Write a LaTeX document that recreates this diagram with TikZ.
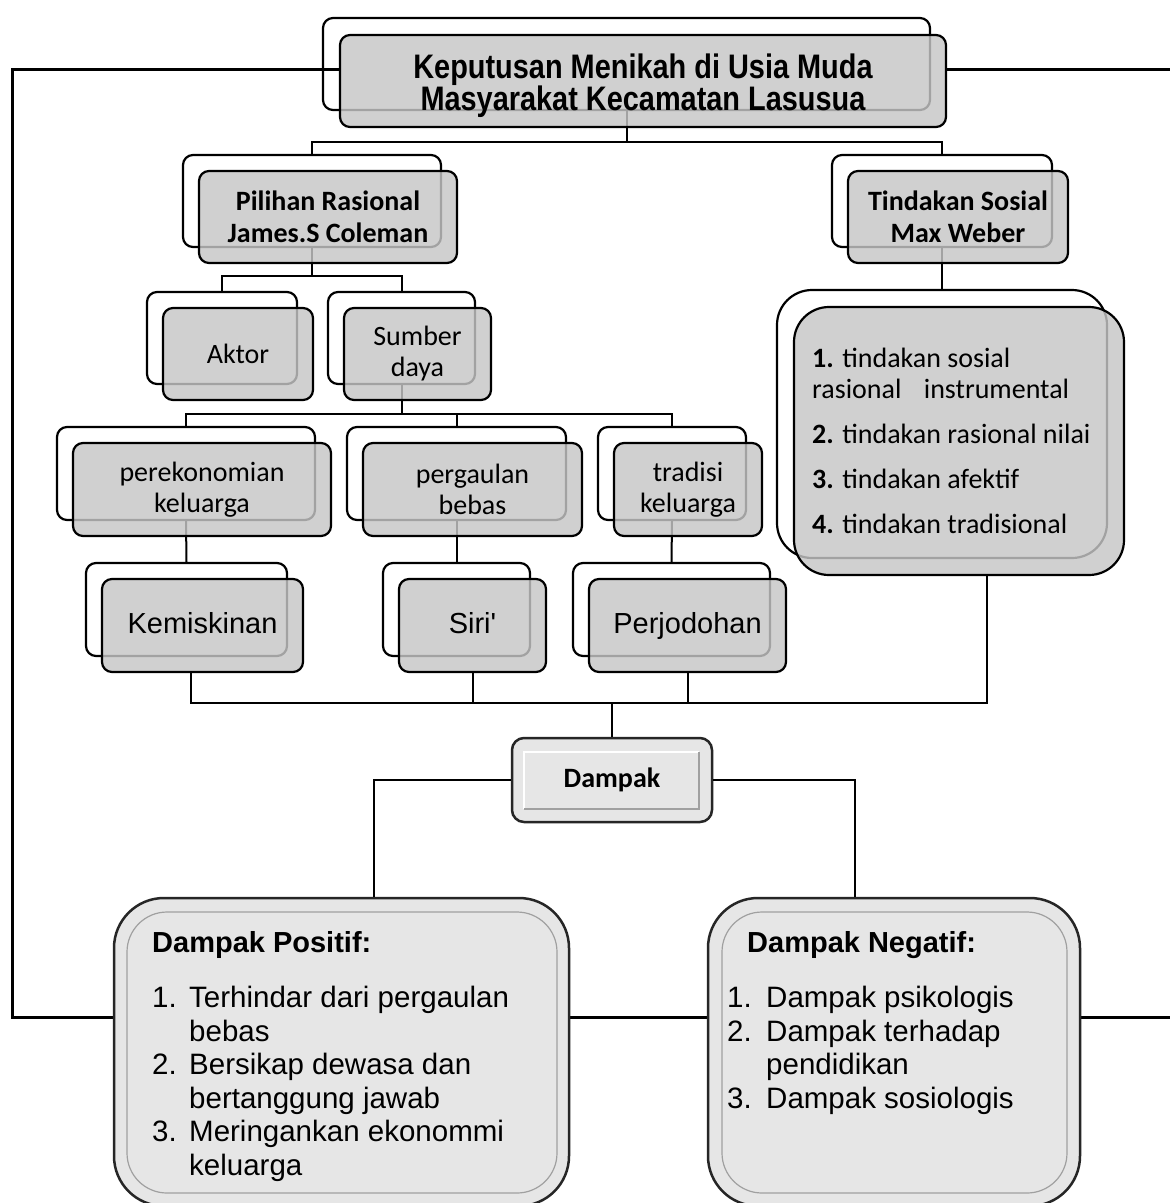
\documentclass[tikz,border=0pt]{standalone}
\usepackage{fontspec}
\usepackage{graphicx}
\setmainfont{Liberation Sans}
\newfontfamily\calibri{Carlito}
\usetikzlibrary{calc}
\definecolor{boxgray}{RGB}{198,198,198}
\definecolor{lightbox}{RGB}{230,230,230}
\definecolor{rimgray}{RGB}{160,160,160}
\begin{document}
\begin{tikzpicture}[x=1pt,y=-1pt,
  backbox/.style={draw=black, line width=2.2pt, rounded corners=10pt, fill=white, inner sep=0pt},
  frontbox/.style={draw=black, line width=2.2pt, rounded corners=10pt, fill=boxgray, fill opacity=0.82, text opacity=1, inner sep=0pt, align=center},
  calf/.style={font=\calibri\fontsize{28}{31}\selectfont},
  calbf/.style={font=\calibri\bfseries\fontsize{28}{32}\selectfont},
  arf/.style={font=\fontsize{29}{31}\selectfont, text height=20pt, text depth=5pt},
  conn/.style={draw=black, line width=2pt},
  frameline/.style={draw=black, line width=3pt},
  bigbox/.style={draw=black!85, line width=2.5pt, rounded corners=50pt, fill=lightbox, inner sep=0pt},
  rim/.style={draw=rimgray, line width=1.2pt, rounded corners=40pt},
]
\useasboundingbox (0,0) rectangle (1170,1203);
\clip (0,0) rectangle (1170,1203);
\fill[white] (0,0) rectangle (1170,1203);

% ---------- back boxes ----------
\node[backbox, minimum width=607pt, minimum height=92pt] (mainB) at (626.5,64) {};
\node[backbox, minimum width=258pt, minimum height=92pt] (pilB) at (312,201) {};
\node[backbox, minimum width=220pt, minimum height=92pt] (tinB) at (942,201) {};
\node[backbox, minimum width=150pt, minimum height=92pt] (aktB) at (222,338) {};
\node[backbox, minimum width=147pt, minimum height=92pt] (sumB) at (401.5,338) {};
\node[backbox, minimum width=258pt, minimum height=93pt] (perB) at (186,473.5) {};
\node[backbox, minimum width=219pt, minimum height=93pt] (pgB) at (456.5,473.5) {};
\node[backbox, minimum width=148pt, minimum height=93pt] (traB) at (672,473.5) {};
\node[backbox, minimum width=201pt, minimum height=93pt] (kemB) at (186.5,609.5) {};
\node[backbox, minimum width=147pt, minimum height=93pt] (siriB) at (456.5,609.5) {};
\node[backbox, minimum width=197pt, minimum height=93pt] (jodB) at (671.5,609.5) {};
\node[backbox, rounded corners=35pt, minimum width=330pt, minimum height=268pt] (listB) at (942,424) {};

% ---------- frame lines ----------
\draw[frameline] (340,69) -- (12,69) -- (12,1017) -- (114,1017);
\draw[frameline] (946,69) -- (1170,69);
\draw[frameline] (569,1017) -- (708,1017);
\draw[frameline] (1080,1017) -- (1170,1017);

% ---------- connectors ----------
\coordinate (jtop) at (626.5,142);
\coordinate (jpil) at (312,276);
\coordinate (jsum) at (401.5,414);
\coordinate (jbot) at (612,703);
\draw[conn] (mainB.south) -- (jtop);
\draw[conn] (pilB.north) |- (jtop) -| (tinB.north);
\draw[conn] (pilB.south) -- (jpil);
\draw[conn] (aktB.north) |- (jpil) -| (sumB.north);
\draw[conn] (sumB.south) -- (jsum);
\draw[conn] (perB.north) |- (jsum) -| (traB.north);
\draw[conn] (pgB.north) -- (pgB.north |- jsum);
\draw[conn] (perB.south) -- (kemB.north);
\draw[conn] (pgB.south) -- (siriB.north);
\draw[conn] (traB.south) -- (jodB.north);
\draw[conn] (tinB.south) -- (listB.north);

% ---------- front boxes ----------
\node[frontbox, minimum width=606pt, minimum height=92pt, font=\bfseries\fontsize{34}{30}\selectfont] (mainF) at (643,81)
  {\rule{0pt}{34pt}\scalebox{0.85}[1]{Keputusan Menikah di Usia Muda}\\\scalebox{0.85}[1]{Masyarakat Kecamatan Lasusua}};
\node[frontbox, calbf, minimum width=258pt, minimum height=92pt] (pilF) at (328,217) {Pilihan Rasional\\James.S Coleman};
\node[frontbox, calbf, minimum width=220pt, minimum height=92pt] (tinF) at (958,217) {Tindakan Sosial\\Max Weber};
\node[frontbox, calf, minimum width=150pt, minimum height=92pt] (aktF) at (238,354) {Aktor};
\node[frontbox, calf, minimum width=147pt, minimum height=92pt] (sumF) at (417.5,354) {Sumber\\daya};
\node[frontbox, calf, minimum width=258pt, minimum height=93pt] (perF) at (202,489.5) {perekonomian\\keluarga};
\node[frontbox, calf, minimum width=219pt, minimum height=93pt] (pgF) at (472.5,489.5) {pergaulan\\bebas};
\node[frontbox, calf, minimum width=148pt, minimum height=93pt] (traF) at (688,489.5) {tradisi\\keluarga};
\node[frontbox, arf, minimum width=201pt, minimum height=93pt] (kemF) at (202.5,625.5) {Kemiskinan};
\node[frontbox, arf, minimum width=147pt, minimum height=93pt] (siriF) at (472.5,625.5) {Siri\textquotesingle};
\node[frontbox, arf, minimum width=197pt, minimum height=93pt] (jodF) at (687.5,625.5) {Perjodohan};
\node[frontbox, rounded corners=35pt, minimum width=330pt, minimum height=268pt] (listF) at (959,441) {};
\node[anchor=north west, inner sep=0pt, align=left, font=\calibri\fontsize{28}{31}\selectfont] (listT) at (812,348)
  {\textbf{1.} tindakan sosial\\rasional\hspace{0.8em}instrumental\\[14pt]\textbf{2.} tindakan rasional nilai\\[14pt]\textbf{3.} tindakan afektif\\[14pt]\textbf{4.} tindakan tradisional};

% ---------- Dampak ----------
\node[draw=black!85, line width=2.5pt, rounded corners=12pt, fill=lightbox, minimum width=200pt, minimum height=84pt,
      inner sep=0pt, calbf] (dampak) at (612,780) {Dampak};
\draw[draw=white, line width=1.5pt] (524,809) -- (524,752) -- (699,752);
\draw[draw=rimgray, line width=1.5pt] (699,752) -- (699,809) -- (524,809);

% ---------- lower connectors ----------
\draw[conn] ([xshift=-12pt]kemF.south) |- (jbot) -| ([xshift=28pt]listF.south);
\draw[conn] (siriF.south) -- (siriF.south |- jbot);
\draw[conn] (jodF.south) -- (jodF.south |- jbot);
\draw[conn] (jbot) -- (dampak.north);

% ---------- Dampak Positif / Negatif ----------
\node[bigbox, minimum width=455pt, minimum height=308pt] (posB) at (341.5,1052) {};
\node[bigbox, minimum width=372pt, minimum height=308pt] (negB) at (894,1052) {};
\draw[rim] (127,912) rectangle (557,1193);
\draw[rim] (722,912) rectangle (1067,1193);
\draw[conn] (dampak.west) -| ($(posB.north)+(32.5,0)$);
\draw[conn] (dampak.east) -| ($(negB.north)+(-39,0)$);

\node[anchor=base west, inner sep=0pt, font=\bfseries\fontsize{29}{32}\selectfont] (posH) at (152,952) {Dampak Positif:};
\node[anchor=north west, inner sep=0pt, align=left, font=\fontsize{29.5}{33.6}\selectfont] (posL) at (152,986)
  {\makebox[37pt][l]{1.}Terhindar dari pergaulan\\\hspace*{37pt}bebas\\
   \makebox[37pt][l]{2.}Bersikap dewasa dan\\\hspace*{37pt}bertanggung jawab\\
   \makebox[37pt][l]{3.}Meringankan ekonommi\\\hspace*{37pt}keluarga};
\node[anchor=base west, inner sep=0pt, font=\bfseries\fontsize{29}{32}\selectfont] (negH) at (747,952) {Dampak Negatif:};
\node[anchor=north west, inner sep=0pt, align=left, font=\fontsize{29.5}{33.6}\selectfont] (negL) at (727,986)
  {\makebox[39pt][l]{1.}Dampak psikologis\\
   \makebox[39pt][l]{2.}Dampak terhadap\\\hspace*{39pt}pendidikan\\
   \makebox[39pt][l]{3.}Dampak sosiologis};
\end{tikzpicture}
\end{document}
